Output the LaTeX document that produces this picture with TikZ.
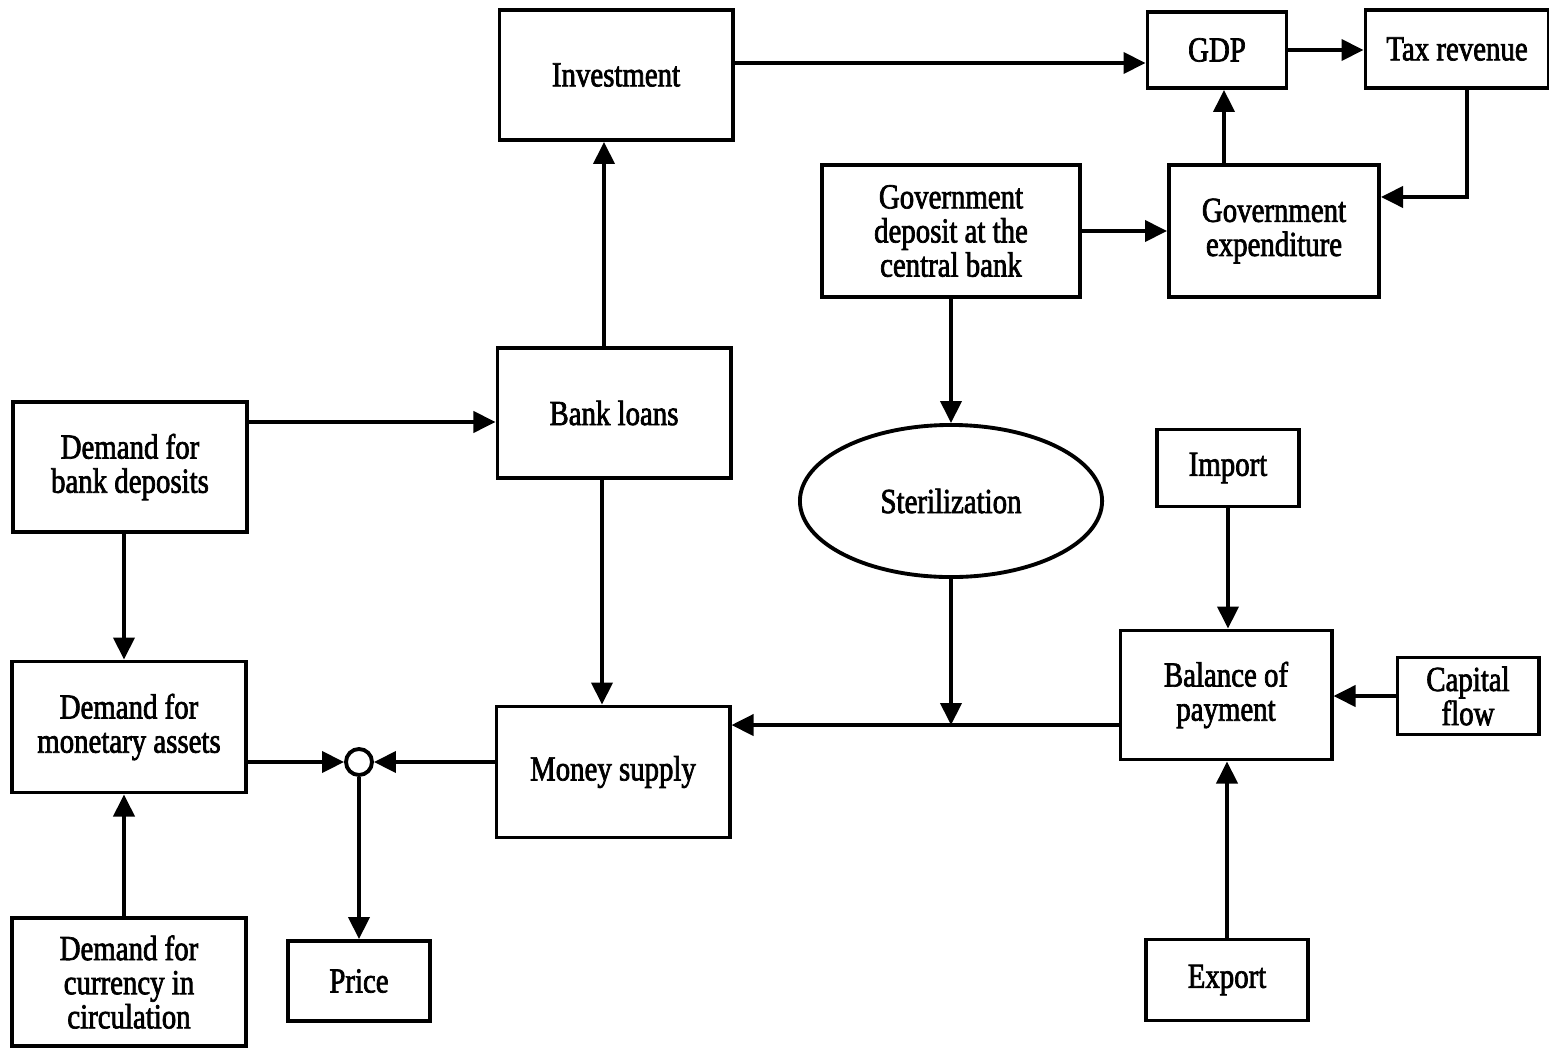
\documentclass[tikz,border=0pt]{standalone}
\usepackage{fontspec}
\setmainfont{Liberation Serif}[FakeStretch=0.82, FakeBold=2]
\usepackage{tikz}
\usetikzlibrary{shapes.geometric, arrows.meta, positioning}

\begin{document}
\begin{tikzpicture}[
  x=0.01cm, y=-0.01cm,
  blk/.style={draw, line width=1.1pt, align=center, inner sep=0pt, font=\fontsize{10}{9.7}\selectfont},
  oval/.style={blk, ellipse, minimum width=3.02cm, minimum height=1.52cm},
  junc/.style={draw, line width=1.1pt, circle, minimum size=0.26cm, inner sep=0pt},
  arr/.style={line width=1.1pt, -{Triangle[length=0.22cm, width=0.21cm]}}
]
  \useasboundingbox (0,0) rectangle (1549,1048);

  % top row
  \node[blk, minimum width=2.33cm, minimum height=1.30cm] (inv) at (616,75) {Investment};
  \node[blk, minimum width=1.39cm, minimum height=0.76cm] (gdp) at (1217,50) {GDP};
  \node[blk, minimum width=1.83cm, minimum height=0.78cm] (tax) at (1457,49) {Tax revenue};
  \node[blk, minimum width=2.58cm, minimum height=1.32cm] (gdep) at (951,231) {Government\\deposit at the\\central bank};
  \node[blk, minimum width=2.10cm, minimum height=1.32cm] (gexp) at (1274,231) {Government\\expenditure};

  % middle
  \node[blk, minimum width=2.33cm, minimum height=1.30cm] (loans) at (614,413) {Bank loans};
  \node[blk, minimum width=2.34cm, minimum height=1.30cm] (dbd) at (130,467) {Demand for\\bank deposits};
  \node[oval] (ster) at (951,501) {Sterilization};
  \node[blk, minimum width=1.42cm, minimum height=0.77cm] (imp) at (1228,468) {Import};

  % lower
  \node[blk, minimum width=2.34cm, minimum height=1.31cm] (dma) at (129,727) {Demand for\\monetary assets};
  \node[blk, minimum width=2.33cm, minimum height=1.31cm] (ms) at (613,772) {Money supply};
  \node[blk, minimum width=2.11cm, minimum height=1.29cm] (bop) at (1226,695) {Balance of\\payment};
  \node[blk, minimum width=1.41cm, minimum height=0.77cm] (cap) at (1468,696) {Capital\\flow};
  \node[junc] (mix) at (359,762) {};

  % bottom row
  \node[blk, minimum width=2.34cm, minimum height=1.28cm] (dcc) at (129,982) {Demand for\\currency in\\circulation};
  \node[blk, minimum width=1.42cm, minimum height=0.80cm] (price) at (359,981) {Price};
  \node[blk, minimum width=1.62cm, minimum height=0.81cm] (exp) at (1227,980) {Export};

  \coordinate (steroff) at ([yshift=-0.30cm]bop.west -| ster.south);

  % connectors
  \draw[arr] ([yshift=0.12cm]inv.east) -- ([yshift=0.12cm]inv.east -| gdp.west);
  \draw[arr] (gdp.east) -- (gdp.east -| tax.west);
  \draw[arr] ([xshift=0.10cm]tax.south) |- ([yshift=0.34cm]gexp.east);
  \draw[arr] ([xshift=0.07cm]gdp.south |- gexp.north) -- ([xshift=0.07cm]gdp.south);
  \draw[arr] (gdep.east) -- (gexp.west);
  \draw[arr] (gdep.south) -- (ster.north);
  \draw[arr] (ster.south) -- (steroff);
  \draw[arr] ([yshift=-0.30cm]bop.west) -- (steroff -| ms.east);
  \draw[arr] (imp.south) -- (imp.south |- bop.north);
  \draw[arr] (cap.west) -- (cap.west -| bop.east);
  \draw[arr] (exp.north) -- (exp.north |- bop.south);
  \draw[arr] ([xshift=-0.10cm]loans.north) -- ([xshift=-0.10cm]loans.north |- inv.south);
  \draw[arr] ([xshift=-0.12cm]loans.south) -- ([xshift=-0.12cm]loans.south |- ms.north);
  \draw[arr] ([yshift=0.45cm]dbd.east) -- ([yshift=0.45cm]dbd.east -| loans.west);
  \draw[arr] ([xshift=-0.06cm]dbd.south) -- ([xshift=-0.06cm]dbd.south |- dma.north);
  \draw[arr] ([xshift=-0.05cm]dcc.north) -- ([xshift=-0.05cm]dcc.north |- dma.south);
  \draw[arr] (mix.west -| dma.east) -- (mix.west);
  \draw[arr] (mix.east -| ms.west) -- (mix.east);
  \draw[arr] (mix.south) -- (price.north);
\end{tikzpicture}
\end{document}
